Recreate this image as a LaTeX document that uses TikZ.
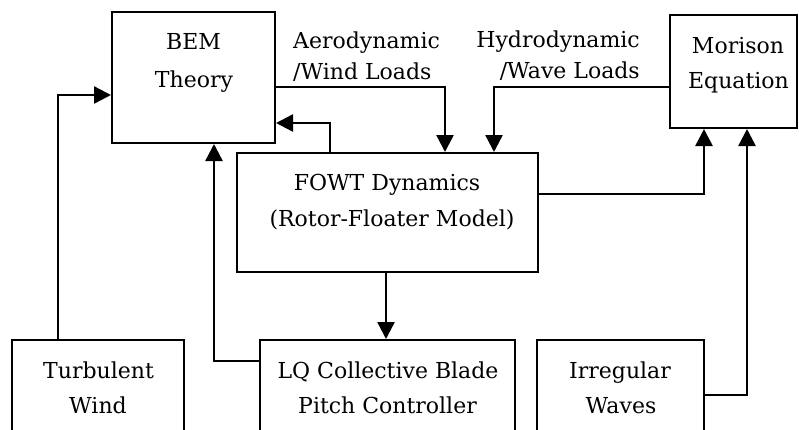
\documentclass[tikz,border=0pt]{standalone}
\usepackage{fontspec}
\setmainfont{DejaVu Serif}
\usetikzlibrary{arrows.meta}
\begin{document}
\begin{tikzpicture}[x=1pt,y=-1pt,
  box/.style={draw, line width=2pt, rectangle, inner sep=0pt},
  arr/.style={line width=2.4pt, -{Triangle[width=17pt,length=17pt]}},
  txt/.style={inner sep=0pt, anchor=base, font=\fontsize{22}{28}\selectfont},
  txtw/.style={txt, anchor=base west},
  txte/.style={txt, anchor=base east}]
\useasboundingbox (0,0) rectangle (799,429);
\clip (0,0) rectangle (799,429);
% boxes
\node[box, minimum width=163pt, minimum height=131pt] (bem) at (193.5,77.5) {};
\node[box, minimum width=127pt, minimum height=113pt] (mor) at (733.5,71.5) {};
\node[box, minimum width=301pt, minimum height=119pt] (fowt) at (387.5,212.5) {};
\node[box, minimum width=172pt, minimum height=110pt] (turb) at (98,395) {};
\node[box, minimum width=255pt, minimum height=110pt] (lq) at (387.5,395) {};
\node[box, minimum width=167pt, minimum height=110pt] (irr) at (620.5,395) {};
% texts
\node[txt] (bem1) at (193.5,49) {BEM};
\node[txt] (bem2) at (194,87) {Theory};
\node[txt] (mor1) at (738,53) {Morison};
\node[txt] (mor2) at (738.5,88) {Equation};
\node[txt] (fowt1) at (387,190) {FOWT Dynamics};
\node[txt] (fowt2) at (392,226) {(Rotor-Floater Model)};
\node[txt] (turb1) at (98.5,378) {Turbulent};
\node[txt] (turb2) at (98,413) {Wind};
\node[txt] (lq1) at (388,378) {LQ Collective Blade};
\node[txt] (lq2) at (387.5,413) {Pitch Controller};
\node[txt] (irr1) at (620,378) {Irregular};
\node[txt] (irr2) at (621,413) {Waves};
\node[txtw] (aero1) at (293,48) {Aerodynamic};
\node[txtw] (aero2) at (293,79) {/Wind Loads};
\node[txte] (hydro1) at (640,47) {Hydrodynamic};
\node[txte] (hydro2) at (640,78) {/Wave Loads};
% connector bends
\coordinate (c1) at (58,95);
\coordinate (c2) at (214,361);
\coordinate (c3) at (330,123);
\coordinate (c4) at (445,87);
\coordinate (c5) at (494,87);
\coordinate (c6) at (704,194);
\coordinate (c7) at (747,395);
\coordinate (c8) at (386,0);
% connectors
\draw[arr] (turb.north -| c1) |- (bem.west |- c1);
\draw[arr] (lq.west |- c2) -| (bem.south -| c2);
\draw[arr] (fowt.north -| c3) |- (bem.east |- c3);
\draw[arr] (bem.east |- c4) -| (fowt.north -| c4);
\draw[arr] (mor.west |- c5) -| (fowt.north -| c5);
\draw[arr] (fowt.east |- c6) -| (mor.south -| c6);
\draw[arr] (irr.east |- c7) -| (mor.south -| c7);
\draw[arr] (fowt.south -| c8) -- (lq.north -| c8);
\end{tikzpicture}
\end{document}
